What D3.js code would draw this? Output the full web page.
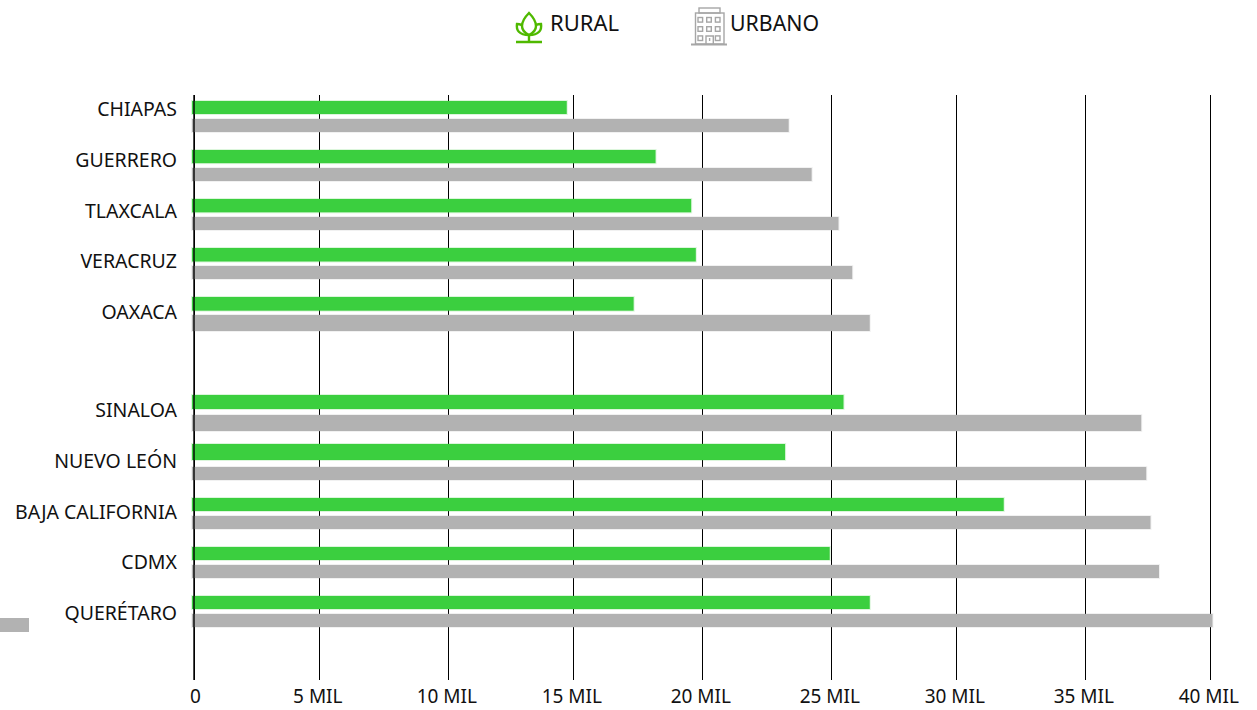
<!DOCTYPE html>
<html><head><meta charset="utf-8">
<script src="https://cdn.jsdelivr.net/npm/d3@7/dist/d3.min.js"></script>
<style>html,body{margin:0;background:#fff}svg{display:block}text{font-family:"Noto Sans",sans-serif;fill:#111}</style>
</head><body><svg id="c" width="1257" height="710"></svg>
<script>
const categories=["CHIAPAS","GUERRERO","TLAXCALA","VERACRUZ","OAXACA","","SINALOA","NUEVO LEÓN","BAJA CALIFORNIA","CDMX","QUERÉTARO"];
const rural=[14.75,18.2,19.58,19.76,17.35,null,25.5,23.22,31.85,24.95,26.55];
const urbano=[23.36,24.25,25.3,25.85,26.55,null,37.25,37.45,37.62,37.96,40.1];
const tickValues=[0,5,10,15,20,25,30,35,40];
const tickLabels=["0","5 MIL","10 MIL","15 MIL","20 MIL","25 MIL","30 MIL","35 MIL","40 MIL"];
const legend=["RURAL","URBANO"];
const GREEN="#3bcf3f",GRAY="#b2b2b2";

const svg=d3.select("#c");
const x=d3.scaleLinear().domain(tickValues).range([194,319,448,573,702,831,956,1085,1210]);
const greenTop=d3.scaleLinear().domain([0,7,8,9,10]).range([101,444,498,547,596]);
const greenBot=d3.scaleLinear().domain([0,6,7,8,10]).range([114,409,460,511,609]);
const grayTop=d3.scaleLinear().domain([0,4,6,7,8,10]).range([119,315,415,467,516,614]);
const grayBot=d3.scaleLinear().domain([0,3,4,6,7,8,10]).range([132,279,331,431,480,529,627]);
const labelY=d3.scaleLinear().domain([0,4,6,10]).range([109.5,312,410.4,613]);

// axis + grid
const axis=d3.axisBottom(x).tickValues(tickValues).tickSize(585).tickPadding(10)
  .tickFormat((d,i)=>tickLabels[i]);
const ag=svg.append("g").attr("transform","translate(0,95)").call(axis);
ag.select(".domain").remove();
ag.selectAll(".tick line").attr("stroke","#000").attr("stroke-width",1);
ag.selectAll(".tick text").attr("font-size",19).attr("fill","#111").attr("dx",(d)=>d===0?1:-1.7).style("font-family",'"Noto Sans",sans-serif');

function bars(vals,top,bot,fill){
  svg.append("g").selectAll("rect").data(vals.map((v,i)=>({v,i})).filter(d=>d.v!=null)).join("rect")
    .attr("x",x(0)-2).attr("y",d=>top(d.i))
    .attr("width",d=>x(d.v)-x(0)+2).attr("height",d=>bot(d.i)-top(d.i))
    .attr("fill",fill).attr("stroke",fill).attr("stroke-opacity",.18).attr("stroke-width",2);
}
bars(rural,greenTop,greenBot,GREEN);
bars(urbano,grayTop,grayBot,GRAY);

// zero line over bars
svg.append("line").attr("x1",x(0)).attr("x2",x(0)).attr("y1",95).attr("y2",680).attr("stroke","#000").attr("stroke-width",1.4);

// stray swatch at left edge
svg.append("rect").attr("x",0).attr("y",618).attr("width",29).attr("height",14).attr("fill",GRAY);

// category labels
svg.append("g").selectAll("text").data(categories.map((c,i)=>({c,i})).filter(d=>d.c)).join("text")
  .attr("x",177).attr("y",d=>labelY(d.i)).attr("dy","0.35em").attr("text-anchor","end").attr("font-size",19.5).text(d=>d.c);

// legend
svg.append("text").attr("x",550).attr("y",23).attr("dy","0.35em").attr("font-size",22).text(legend[0]);
svg.append("text").attr("x",730).attr("y",24).attr("dy","0.35em").attr("font-size",21.3).text(legend[1]);

const LC="#4fb900";
const leaf=svg.append("g").attr("fill","none").attr("stroke",LC).attr("stroke-width",2.4);
leaf.append("path").attr("d","M529 13C524 18 522 22 522 26C522 30 525 33 529 35C533 33 536 30 536 26C536 22 534 18 529 13Z");
leaf.append("path").attr("d","M522 25C519 24 518 24 517 24C516 30 519 35 529 35C539 35 542 30 541 24C540 24 538 24 536 25");
leaf.append("path").attr("d","M529 35V42M516 42H542");

const BC="#a6a6a6";
const b=svg.append("g").attr("fill","none").attr("stroke",BC).attr("stroke-width",1.4);
b.append("rect").attr("x",699).attr("y",8).attr("width",21).attr("height",5);
b.append("rect").attr("x",695.5).attr("y",13).attr("width",28.5).attr("height",31);
b.append("path").attr("d","M691 44.5H727").attr("stroke-width",1.8);
d3.range(3).forEach(r=>d3.range(3).forEach(c=>{
  if(r==2&&c==1)return;
  b.append("rect").attr("x",698+c*8.7).attr("y",17.5+r*9.2).attr("width",4.6).attr("height",4.6);
}));
b.append("path").attr("d","M706 44V36H713.3V44M709.6 38V41");
</script></body></html>
